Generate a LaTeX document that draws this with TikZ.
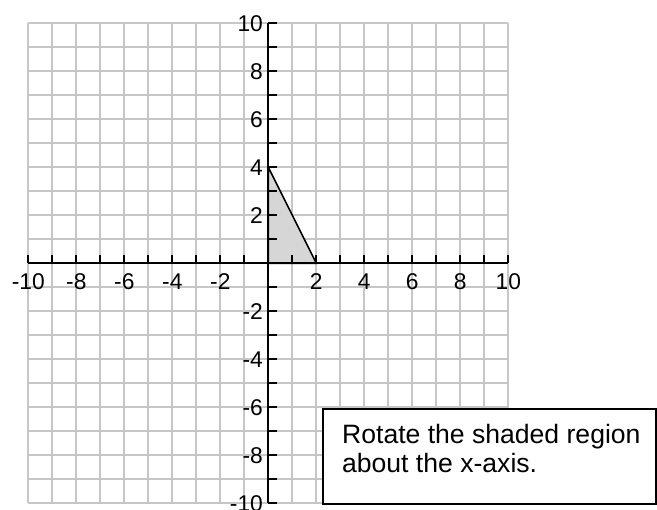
\documentclass[tikz,border=0pt]{standalone}
\usepackage{fontspec}
\setmainfont{Liberation Sans}
\begin{document}
\begin{tikzpicture}[x=1cm,y=1cm,
  gridline/.style={draw=black!22, line width=2.2pt},
  axisline/.style={draw=black, line width=2.2pt},
  tickline/.style={draw=black, line width=2pt},
  ticklabel/.style={font=\fontsize{27}{27}\selectfont, inner sep=0pt},
  region/.style={fill=black!16, draw=black, line width=1.8pt, line join=miter},
  notebox/.style={draw=black, line width=2pt, fill=white},
  notetext/.style={font=\fontsize{31.5}{31.5}\selectfont, inner sep=0pt, anchor=base west}]
\useasboundingbox (-11.18,-10.28) rectangle (16.196,10.97);
% grid
\foreach \i in {-10,...,10}{
  \draw[gridline] (\i,-10) -- (\i,10);
  \draw[gridline] (-10,\i) -- (10,\i);
}
% shaded region
\coordinate (O) at (0,0);
\coordinate (A) at (0,4);
\coordinate (B) at (2,0);
\draw[region] (O) -- (A) -- (B) -- cycle;
% axes
\coordinate (xl) at (-10,0);
\coordinate (xr) at (10,0);
\coordinate (yb) at (0,-10);
\coordinate (yt) at (0,10);
\draw[axisline] (xl) -- (xr);
\draw[axisline] (yb) -- (yt);
\foreach \i in {-10,...,10}{
  \draw[tickline] (\i,0) -- (\i,0.36);
  \draw[tickline] (0,\i) -- (0.38,\i);
}
\foreach \i in {-10,-8,-6,-4,-2,2,4,6,8,10}{
  \node[ticklabel, anchor=center] (xlab\i) at (\i,-0.76) {\i};
  \node[ticklabel, anchor=east] (ylab\i) at (-0.22,\i) {\i};
}
% note box
\node[notebox, minimum width=13.87cm, minimum height=3.96cm, anchor=north west, inner sep=0pt] (box) at (2.24,-6.03) {};
\node[notetext] (line1) at (3.07,-7.49) {Rotate the shaded region};
\node[notetext] (line2) at (3.07,-8.70) {about the x-axis.};
\end{tikzpicture}
\end{document}
